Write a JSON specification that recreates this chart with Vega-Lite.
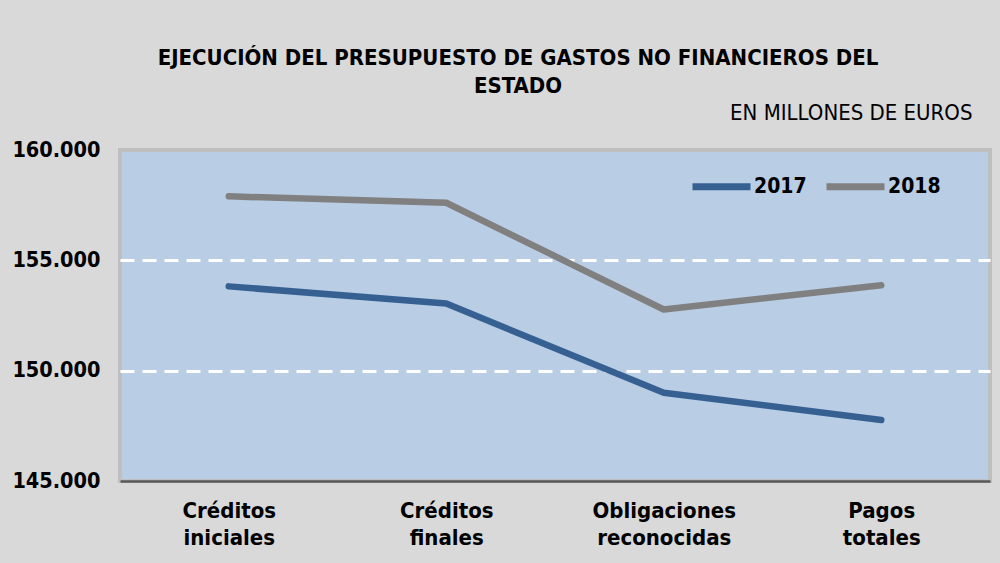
{
  "$schema": "https://vega.github.io/schema/vega-lite/v6.json",
  "autosize": {"type": "none"},
  "width": 870,
  "height": 331,
  "padding": {"top": 150, "left": 120, "right": 10, "bottom": 82},
  "background": "#d9d9d9",
  "title": {
    "text": ["EJECUCIÓN DEL PRESUPUESTO DE GASTOS  NO FINANCIEROS DEL", "ESTADO"],
    "font": "DejaVu Sans Condensed",
    "fontSize": 22,
    "fontWeight": "bold",
    "color": "#000000",
    "lineHeight": 28,
    "anchor": "middle",
    "frame": "group",
    "dx": -37,
    "offset": 3
  },
  "config": {
    "view": {"fill": "#b9cde5", "stroke": "#bfbfbf", "strokeWidth": 4},
    "font": "DejaVu Sans Condensed"
  },
  "data": {
    "values": [
      {"cat": "Créditos iniciales", "year": "2017", "value": 153820},
      {"cat": "Créditos finales", "year": "2017", "value": 153040},
      {"cat": "Obligaciones reconocidas", "year": "2017", "value": 149000},
      {"cat": "Pagos totales", "year": "2017", "value": 147760},
      {"cat": "Créditos iniciales", "year": "2018", "value": 157900},
      {"cat": "Créditos finales", "year": "2018", "value": 157610},
      {"cat": "Obligaciones reconocidas", "year": "2018", "value": 152770},
      {"cat": "Pagos totales", "year": "2018", "value": 153870}
    ]
  },
  "mark": {"type": "line", "strokeWidth": 6.5, "strokeCap": "round", "strokeJoin": "round"},
  "encoding": {
    "x": {
      "field": "cat",
      "type": "nominal",
      "sort": null,
      "scale": {"type": "point", "padding": 0.5},
      "axis": {
        "title": null,
        "labelAngle": 0,
        "labelExpr": "split(datum.value, ' ')",
        "labelFont": "DejaVu Sans Condensed",
        "labelFontSize": 22,
        "labelFontWeight": "bold",
        "labelColor": "#000000",
        "labelLineHeight": 27,
        "labelPadding": 19,
        "labelBaseline": "top",
        "ticks": false,
        "domainColor": "#595959",
        "domainWidth": 2.5,
        "grid": false
      }
    },
    "y": {
      "field": "value",
      "type": "quantitative",
      "scale": {"domain": [145000, 160000], "zero": false, "nice": false},
      "axis": {
        "values": [145000, 150000, 155000, 160000],
        "labelExpr": "replace(format(datum.value, ',.0f'), ',', '.')",
        "labelFont": "DejaVu Sans Condensed",
        "labelFontSize": 21.5,
        "labelFontWeight": "bold",
        "labelColor": "#000000",
        "labelPadding": 20,
        "ticks": false,
        "domain": false,
        "grid": true,
        "gridColor": "#ffffff",
        "gridWidth": 3,
        "gridDash": [14, 8],
        "gridOpacity": {"condition": {"test": "datum.value == 145000 || datum.value == 160000", "value": 0}, "value": 1},
        "title": "EN  MILLONES DE EUROS",
        "titleAngle": 0,
        "titleX": 852,
        "titleY": -38,
        "titleAlign": "right",
        "titleBaseline": "middle",
        "titleFont": "DejaVu Sans Condensed",
        "titleFontSize": 22,
        "titleFontWeight": "normal",
        "titleColor": "#000000"
      }
    },
    "color": {
      "field": "year",
      "type": "nominal",
      "scale": {"domain": ["2017", "2018"], "range": ["#376092", "#808080"]},
      "legend": {
        "title": null,
        "orient": "none",
        "direction": "horizontal",
        "legendX": 569,
        "legendY": 4,
        "symbolType": "stroke",
        "symbolSize": 3364,
        "symbolStrokeWidth": 7,
        "labelFont": "DejaVu Sans Condensed",
        "labelFontSize": 21,
        "labelFontWeight": "bold",
        "labelColor": "#000000",
        "labelOffset": 0,
        "columnPadding": 5
      }
    }
  }
}
